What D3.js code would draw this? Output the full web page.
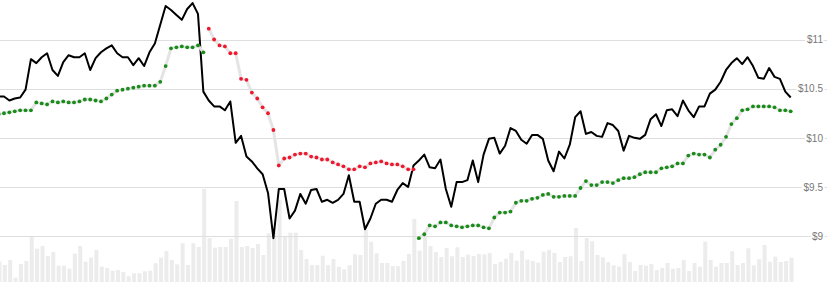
<!DOCTYPE html>
<html>
<head>
<meta charset="utf-8">
<script src="https://cdn.jsdelivr.net/npm/d3@7"></script>
<style>
    body { margin: 0; background: #fff; }
    .price-ticks text { font: 10px "Liberation Sans", Arial, sans-serif; fill: #777; }
</style>
</head>
<body>
<div id="chart"></div>
<script>
// closing price, one per trading day
const close = [
    10.42, 10.42, 10.38, 10.40, 10.41, 10.49, 10.80, 10.76, 10.82, 10.86,
    10.69, 10.63, 10.77, 10.84, 10.82, 10.82, 10.86, 10.69, 10.81, 10.87,
    10.91, 10.94, 10.86, 10.82, 10.82, 10.74, 10.81, 10.73, 10.87, 10.96,
    11.15, 11.34, 11.30, 11.25, 11.20, 11.31, 11.37, 11.26, 10.47, 10.38,
    10.32, 10.32, 10.28, 10.37, 9.95, 10.02, 9.81, 9.76, 9.69, 9.63,
    9.44, 8.98, 9.48, 9.48, 9.18, 9.26, 9.43, 9.33, 9.47, 9.48,
    9.35, 9.37, 9.34, 9.37, 9.43, 9.62, 9.35, 9.35, 9.07, 9.18,
    9.33, 9.37, 9.37, 9.35, 9.47, 9.54, 9.50, 9.72, 9.77, 9.83,
    9.70, 9.69, 9.78, 9.48, 9.30, 9.55, 9.55, 9.57, 9.77, 9.55,
    9.83, 9.99, 10.00, 9.84, 9.92, 10.10, 10.07, 9.98, 9.94, 10.03,
    10.03, 9.99, 9.77, 9.66, 9.86, 9.79, 9.93, 10.21, 10.27, 10.04,
    10.06, 10.02, 10.01, 10.15, 10.13, 10.07, 9.87, 10.02, 10.00, 9.99,
    10.03, 10.19, 10.24, 10.12, 10.28, 10.29, 10.22, 10.38, 10.28, 10.21,
    10.32, 10.32, 10.45, 10.49, 10.57, 10.69, 10.76, 10.81, 10.75, 10.82,
    10.73, 10.61, 10.60, 10.71, 10.62, 10.60, 10.47, 10.41
];

// parabolic SAR values
const sar = [
    10.24, 10.25, 10.26, 10.27, 10.28, 10.28, 10.28, 10.36, 10.35, 10.34,
    10.37, 10.36, 10.37, 10.36, 10.36, 10.37, 10.39, 10.39, 10.38, 10.37,
    10.40, 10.44, 10.48, 10.49, 10.50, 10.51, 10.52, 10.53, 10.53, 10.53,
    10.57, 10.73, 10.91, 10.92, 10.93, 10.92, 10.92, 10.94, 10.87, 11.11,
    11.00, 10.94, 10.93, 10.86, 10.86, 10.60, 10.59, 10.46, 10.40, 10.31,
    10.25, 10.08, 9.72, 9.79, 9.80, 9.83, 9.84, 9.84, 9.81, 9.80,
    9.78, 9.78, 9.75, 9.73, 9.71, 9.68, 9.68, 9.71, 9.70, 9.74,
    9.75, 9.76, 9.74, 9.73, 9.73, 9.71, 9.68, 9.68, 8.98, 9.02,
    9.11, 9.10, 9.14, 9.14, 9.11, 9.10, 9.09, 9.10, 9.11, 9.11,
    9.09, 9.08, 9.19, 9.24, 9.24, 9.25, 9.34, 9.36, 9.36, 9.38,
    9.39, 9.42, 9.43, 9.40, 9.40, 9.41, 9.41, 9.41, 9.49, 9.56,
    9.52, 9.52, 9.55, 9.55, 9.54, 9.57, 9.59, 9.59, 9.60, 9.63,
    9.65, 9.65, 9.65, 9.69, 9.70, 9.71, 9.74, 9.74, 9.82, 9.84,
    9.83, 9.83, 9.80, 9.88, 9.93, 10.01, 10.14, 10.20, 10.28, 10.29,
    10.32, 10.32, 10.32, 10.32, 10.31, 10.28, 10.28, 10.27
];

// volume, millions
const volume = [
    2.03, 1.70, 2.20, 0.43, 1.80, 2.10, 4.53, 3.33, 3.60, 2.60,
    3.00, 1.63, 1.63, 1.33, 2.83, 3.60, 2.03, 2.43, 3.20, 1.53,
    1.40, 1.13, 1.20, 1.00, 0.57, 0.87, 0.87, 1.07, 1.13, 1.87,
    2.43, 3.10, 2.20, 1.77, 3.87, 1.70, 3.87, 3.50, 9.30, 4.40,
    3.43, 3.50, 3.50, 4.33, 8.10, 3.50, 3.60, 3.40, 3.80, 2.70,
    4.87, 5.03, 8.20, 4.60, 4.93, 4.93, 3.20, 2.30, 1.70, 1.70,
    2.63, 1.70, 2.30, 1.50, 1.27, 1.67, 2.77, 2.70, 5.20, 4.03,
    2.87, 1.90, 1.90, 1.60, 1.57, 2.10, 2.80, 6.30, 3.13, 4.57,
    3.60, 3.00, 2.50, 3.40, 2.57, 3.47, 2.50, 2.73, 2.60, 2.80,
    2.77, 2.90, 1.80, 2.00, 2.33, 2.90, 2.13, 3.13, 2.23, 2.10,
    1.93, 3.03, 3.20, 2.90, 2.00, 2.50, 2.57, 5.40, 2.10, 4.40,
    4.07, 2.70, 2.47, 2.00, 1.67, 1.53, 2.80, 2.00, 1.10, 1.70,
    1.63, 1.80, 1.20, 1.40, 1.90, 1.33, 1.40, 2.20, 1.10, 1.90,
    1.53, 4.03, 2.20, 1.53, 1.90, 1.90, 3.07, 1.70, 1.90, 3.37,
    1.67, 2.27, 3.70, 2.03, 2.53, 2.00, 2.10, 2.43
];

// SAR trend: day index where each run starts, and its direction
const trendStarts = [0, 39, 78];
const trendDirs = ["up", "down", "up"];

const priceTicks = [9, 9.5, 10, 10.5, 11];

const width = 827;
const height = 282;

const svg = d3.select("#chart")
    .append("svg")
    .attr("width", width)
    .attr("height", height);

const x = d3.scaleLinear()
    .domain([0, close.length - 1])
    .range([-1.4, 790.7]);

const y = d3.scaleLinear()
    .domain([9, 11])
    .range([236.2, 39.5]);

const yVol = d3.scaleLinear()
    .domain([0, 10])
    .range([height, height - 100]);

// volume bars
svg.append("g")
    .attr("class", "volume")
    .selectAll("rect")
    .data(volume)
    .enter()
    .append("rect")
    .attr("x", (d, i) => x(i) - 1.2)
    .attr("width", 4)
    .attr("y", d => yVol(d))
    .attr("height", d => height - yVol(d))
    .attr("fill", "#ececec");

// gridlines
const grid = svg.append("g")
    .attr("class", "grid")
    .call(d3.axisRight(y).tickValues(priceTicks).tickSize(width).tickFormat(""));
grid.select(".domain").remove();
grid.selectAll("line").attr("stroke", "#dedede").attr("shape-rendering", "crispEdges");

// price line
svg.append("path")
    .datum(close)
    .attr("fill", "none")
    .attr("stroke", "#000")
    .attr("stroke-width", 2)
    .attr("stroke-linejoin", "round")
    .attr("d", d3.line().x((d, i) => x(i)).y(d => y(d)));

// SAR runs
const runs = trendStarts.map((start, k) => {
    const end = k + 1 < trendStarts.length ? trendStarts[k + 1] : sar.length;
    return { dir: trendDirs[k], idx: d3.range(start, end) };
});

const sarLine = d3.line().x(i => x(i)).y(i => y(sar[i]));

svg.append("g")
    .attr("class", "sar-lines")
    .selectAll("path")
    .data(runs)
    .enter()
    .append("path")
    .attr("fill", "none")
    .attr("stroke", "#e4e4e4")
    .attr("stroke-width", 3)
    .attr("d", r => sarLine(r.idx));

runs.forEach(r => {
    svg.append("g")
        .selectAll("circle")
        .data(r.idx)
        .enter()
        .append("circle")
        .attr("cx", i => x(i))
        .attr("cy", i => y(sar[i]))
        .attr("r", 1.9)
        .attr("fill", r.dir === "up" ? "#1a8c1a" : "#f0172e");
});

// price labels on the right
const axis = svg.append("g")
    .attr("class", "price-ticks")
    .attr("transform", "translate(823,0)")
    .call(d3.axisLeft(y).tickValues(priceTicks).tickSize(0).tickPadding(0).tickFormat(d => "$" + d));
axis.select(".domain").remove();
axis.selectAll("text")
    .attr("stroke", "#fff")
    .attr("stroke-width", 4)
    .attr("paint-order", "stroke")
    .attr("stroke-linejoin", "round");
</script>
</body>
</html>
